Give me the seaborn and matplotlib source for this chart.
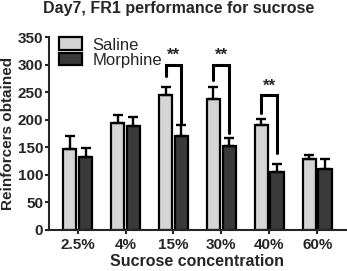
import numpy as np
import pandas as pd
import seaborn as sns
import matplotlib.pyplot as plt

concentrations = ["2.5%", "4%", "15%", "30%", "40%", "60%"]
saline_mean = [147, 194, 245, 237, 190, 128]
saline_err = [23, 14, 14, 22, 12, 8]
morphine_mean = [132, 188, 171, 153, 105, 111]
morphine_err = [16, 17, 20, 13, 15, 17]

# significance brackets: category index, bar top, left leg end, right leg end
sig_idx = [2, 3, 4]
sig_top = [300, 300, 244]
sig_left = [280, 272, 212]
sig_right = [194, 176, 140]

sns.set_style("ticks")
plt.rcParams["font.family"] = ["Liberation Sans", "DejaVu Sans"]

df = pd.DataFrame({
    "conc": concentrations * 2,
    "group": ["Saline"] * 6 + ["Morphine"] * 6,
    "value": saline_mean + morphine_mean,
})

fig = plt.figure(figsize=(3.47, 2.71), dpi=100)
ax = fig.add_axes([0.141, 0.152, 0.856, 0.711])

sns.barplot(data=df, x="conc", y="value", hue="group", order=concentrations,
            hue_order=["Saline", "Morphine"],
            palette=["#d4d4d4", "#3a3a3a"], edgecolor="black", linewidth=1.6,
            width=0.66, gap=0.15, errorbar=None, ax=ax)

# bars come out per hue: first six Saline, then six Morphine
bars = ax.patches[:12]
xs_sal = [b.get_x() + b.get_width() / 2 for b in bars[:6]]
xs_mor = [b.get_x() + b.get_width() / 2 for b in bars[6:12]]

for xs, m, e in [(xs_sal, saline_mean, saline_err), (xs_mor, morphine_mean, morphine_err)]:
    ax.errorbar(xs, m, yerr=[np.zeros(len(e)), e], fmt="none", ecolor="black",
                elinewidth=1.7, capsize=3.5, capthick=1.7, zorder=3)

for i, top, lb, rb in zip(sig_idx, sig_top, sig_left, sig_right):
    x1, x2 = xs_sal[i], xs_mor[i]
    ax.plot([x1, x1, x2, x2], [lb, top, top, rb], color="black", lw=2.2,
            solid_joinstyle="miter")
    ax.text((x1 + x2) / 2, top + 4, "**", ha="center", va="bottom",
            fontsize=12, fontweight="bold")

ax.set_ylim(0, 350)
ax.set_xlim(-0.6, 5.6)
ax.set_yticks(range(0, 351, 50))
ax.tick_params(axis="y", labelsize=11, width=1.5, length=3, pad=1)
ax.tick_params(axis="x", labelsize=11, width=1.5, length=3, pad=3)
for lab in ax.get_xticklabels() + ax.get_yticklabels():
    lab.set_fontweight("bold")
for s in ["left", "bottom"]:
    ax.spines[s].set_linewidth(1.5)
sns.despine(ax=ax)

ax.set_xlabel("Sucrose concentration", fontsize=11.5, fontweight="bold", labelpad=1)
ax.set_ylabel("Reinforcers obtained", fontsize=11, fontweight="bold", labelpad=2)
fig.suptitle("Day7, FR1 performance for sucrose", fontsize=11.5, fontweight="bold",
             x=0.515, y=0.995)

ax.legend(loc="upper left", bbox_to_anchor=(0.0, 1.05), frameon=False,
          fontsize=12, handlelength=1.4, handleheight=0.8, labelspacing=0.0,
          handletextpad=0.6, borderaxespad=0.2)

fig.savefig("out.png", dpi=100)
